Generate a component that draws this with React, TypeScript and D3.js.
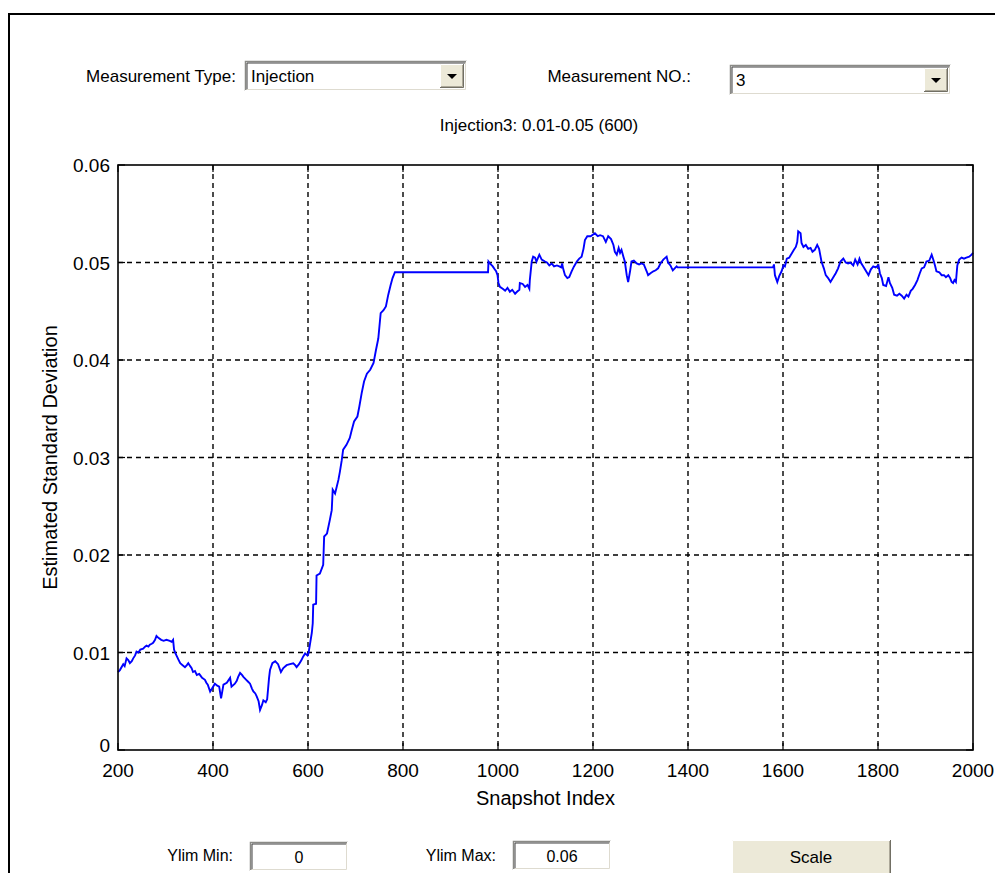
import React from 'react';
import * as d3 from 'd3';

const snapshotIndex = [
  200, 204, 211, 214, 218, 222, 225, 229, 232, 236, 239, 243, 247, 253, 257, 260, 264, 267, 271, 274, 278, 281, 285, 291, 296, 302, 309, 313, 316, 318,
  321, 324, 328, 331, 336, 341, 345, 348, 352, 355, 358, 362, 366, 371, 374, 377, 383, 386, 389, 394, 398, 404, 409, 413, 417, 422, 429, 436, 439, 446,
  450, 453, 457, 461, 464, 470, 474, 478, 482, 485, 489, 492, 496, 499, 503, 506, 511, 514, 516, 518, 520, 525, 531, 537, 543, 548, 555, 562, 569, 573,
  576, 581, 586, 590, 594, 599, 601,
  604, 608, 610, 611, 617, 618, 625, 632, 634, 640, 646, 650, 652, 657, 664, 667, 671, 674, 681, 688, 692, 697, 704, 708, 713, 718, 724, 731, 738, 743,
  748, 753, 759, 764, 769, 774, 778, 783, 979,
  980, 983, 989, 993, 996, 999, 1001, 1004, 1010, 1015, 1020, 1025, 1030, 1036, 1040, 1045, 1046, 1052, 1057, 1062, 1066, 1067, 1071, 1074, 1078, 1081,
  1087, 1092, 1099, 1103, 1108, 1113, 1118, 1124, 1129, 1133, 1135, 1137, 1141, 1146, 1150, 1155, 1160, 1166, 1171, 1176, 1180, 1183, 1188, 1195, 1204,
  1210, 1215, 1221, 1227, 1232, 1238, 1243, 1246, 1250, 1254, 1257, 1260, 1264, 1267, 1271, 1274, 1278, 1281, 1286, 1292, 1297, 1302, 1307, 1313, 1316,
  1321, 1327, 1332, 1337, 1342, 1348, 1355, 1358, 1363, 1368, 1372, 1376, 1378, 1579,
  1581, 1583, 1588, 1592, 1597, 1601, 1604, 1608, 1613, 1618, 1623, 1627, 1630, 1632, 1637, 1639, 1643, 1648, 1653, 1658, 1662, 1667, 1672, 1676, 1681,
  1686, 1690, 1695, 1700, 1705, 1711, 1716, 1721, 1727, 1732, 1737, 1742, 1748, 1752, 1757, 1761, 1765, 1769, 1775, 1780, 1785, 1790, 1795, 1801, 1804,
  1808, 1811, 1817, 1822, 1825, 1830, 1834, 1840, 1845, 1850, 1855, 1860, 1864, 1869, 1873, 1878, 1883, 1888, 1892, 1897, 1902, 1908, 1913, 1917, 1920,
  1923, 1929, 1934, 1939, 1943, 1948, 1952, 1955, 1958, 1961, 1964, 1967, 1971, 1976, 1981, 1986, 1992, 1997, 2000,
];

const stdValues = [
  0.0080, 0.0082, 0.0088, 0.0086, 0.0094, 0.0092, 0.0089, 0.0091, 0.0094, 0.0097, 0.0101, 0.0100, 0.0103, 0.0104, 0.0106, 0.0107, 0.0106, 0.0108, 0.0109, 0.0110,
  0.0113, 0.0117, 0.0115, 0.0113, 0.0112, 0.0113, 0.0112, 0.0111, 0.0113, 0.0103,
  0.0099, 0.0096, 0.0092, 0.0089, 0.0087, 0.0085, 0.0087, 0.0089, 0.0086, 0.0084, 0.0080, 0.0081, 0.0077, 0.0078, 0.0076, 0.0074, 0.0072, 0.0069, 0.0067, 0.0060,
  0.0063, 0.0068, 0.0066, 0.0065, 0.0053, 0.0067, 0.0069, 0.0074, 0.0065, 0.0068,
  0.0071, 0.0075, 0.0079, 0.0077, 0.0075, 0.0072, 0.0070, 0.0068, 0.0063, 0.0060, 0.0058, 0.0055, 0.0050, 0.0041, 0.0046, 0.0051, 0.0049, 0.0052, 0.0063, 0.0074,
  0.0082, 0.0089, 0.0091, 0.0088, 0.0080, 0.0084, 0.0087, 0.0088, 0.0089, 0.0087,
  0.0085, 0.0088, 0.0092, 0.0096, 0.0099, 0.0097, 0.0099,
  0.0108, 0.0120, 0.0130, 0.0149, 0.0150, 0.0179, 0.0181, 0.0190, 0.0219, 0.0222, 0.0236, 0.0246, 0.0267, 0.0263, 0.0277, 0.0285, 0.0297, 0.0308, 0.0313, 0.0320,
  0.0328, 0.0337, 0.0342, 0.0352, 0.0366, 0.0378, 0.0386, 0.0390, 0.0397, 0.0410,
  0.0422, 0.0448, 0.0451, 0.0455, 0.0467, 0.0477, 0.0484, 0.0490, 0.0490,
  0.0501, 0.0499, 0.0496, 0.0493, 0.0491, 0.0487, 0.0479, 0.0475, 0.0473, 0.0471, 0.0474, 0.0470, 0.0472, 0.0468, 0.0470, 0.0472, 0.0479, 0.0478, 0.0475, 0.0477,
  0.0473, 0.0482, 0.0501, 0.0506, 0.0505, 0.0501,
  0.0508, 0.0503, 0.0501, 0.0500, 0.0497, 0.0499, 0.0496, 0.0497, 0.0496, 0.0495, 0.0499, 0.0494, 0.0487, 0.0484, 0.0485, 0.0491, 0.0496, 0.0501, 0.0504, 0.0506,
  0.0514, 0.0523, 0.0527, 0.0527, 0.0530,
  0.0527, 0.0528, 0.0527, 0.0521, 0.0527, 0.0524, 0.0518, 0.0511, 0.0508, 0.0515, 0.0510, 0.0513, 0.0506, 0.0501, 0.0487, 0.0480, 0.0491, 0.0501, 0.0502, 0.0499,
  0.0498, 0.0499, 0.0498, 0.0491, 0.0487,
  0.0489, 0.0491, 0.0492, 0.0494, 0.0499, 0.0503, 0.0506, 0.0500, 0.0497, 0.0492, 0.0494, 0.0496, 0.0495, 0.0495,
  0.0498, 0.0487, 0.0480, 0.0486, 0.0491, 0.0497, 0.0496, 0.0504, 0.0505, 0.0509, 0.0513, 0.0516, 0.0521, 0.0532, 0.0530, 0.0520, 0.0516, 0.0518, 0.0514, 0.0515,
  0.0511, 0.0513, 0.0518, 0.0514, 0.0501,
  0.0494, 0.0487, 0.0484, 0.0480, 0.0484, 0.0489, 0.0494, 0.0501, 0.0504, 0.0500, 0.0499, 0.0500, 0.0497, 0.0503, 0.0498, 0.0504, 0.0499, 0.0496, 0.0491, 0.0487,
  0.0493, 0.0496, 0.0495, 0.0497, 0.0489,
  0.0484, 0.0477, 0.0476, 0.0485, 0.0479, 0.0474, 0.0467, 0.0466, 0.0468, 0.0466, 0.0463, 0.0467, 0.0465, 0.0471, 0.0473, 0.0477, 0.0482, 0.0489, 0.0494, 0.0495,
  0.0501, 0.0502, 0.0508, 0.0502, 0.0497,
  0.0491, 0.0490, 0.0487, 0.0487, 0.0485, 0.0487, 0.0484, 0.0480, 0.0479, 0.0482, 0.0480, 0.0497, 0.0503, 0.0505, 0.0504, 0.0505, 0.0506, 0.0508, 0.0510,
];

const xTicks = [200, 400, 600, 800, 1000, 1200, 1400, 1600, 1800, 2000];
const yTicks = [0, 0.01, 0.02, 0.03, 0.04, 0.05, 0.06];
const yTickLabels = ['0', '0.01', '0.02', '0.03', '0.04', '0.05', '0.06'];

const plotTitle = 'Injection3: 0.01-0.05 (600)';
const xLabel = 'Snapshot Index';
const yLabel = 'Estimated Standard Deviation';
const typeLabel = 'Measurement Type:';
const typeValue = 'Injection';
const noLabel = 'Measurement NO.:';
const noValue = '3';
const yminLabel = 'Ylim Min:';
const yminValue = '0';
const ymaxLabel = 'Ylim Max:';
const ymaxValue = '0.06';
const buttonLabel = 'Scale';

const FONT = '"Liberation Sans", Arial, sans-serif';
const BTN = '#ece9d8';

function Sunken({ x, y, w, h }: { x: number; y: number; w: number; h: number }) {
  return (
    <g>
      <rect x={x} y={y} width={w} height={h} fill="#ffffff" />
      <path d={`M${x + 0.5},${y + h} V${y + 0.5} H${x + w}`} stroke="#8a8a86" strokeWidth={1.5} fill="none" />
      <path d={`M${x + 2},${y + h - 1} V${y + 2} H${x + w - 1}`} stroke="#404040" strokeWidth={1} fill="none" />
      <path d={`M${x},${y + h - 0.5} H${x + w - 0.5} V${y}`} stroke="#ffffff" strokeWidth={1} fill="none" />
      <path d={`M${x + 1.5},${y + h - 1.5} H${x + w - 1.5} V${y + 1.5}`} stroke="#dedbd0" strokeWidth={1} fill="none" />
    </g>
  );
}

function Raised({ x, y, w, h }: { x: number; y: number; w: number; h: number }) {
  return (
    <g>
      <rect x={x} y={y} width={w} height={h} fill={BTN} />
      <path d={`M${x + 0.5},${y + h} V${y + 0.5} H${x + w}`} stroke="#ffffff" strokeWidth={1} fill="none" />
      <path d={`M${x},${y + h - 0.5} H${x + w - 0.5} V${y}`} stroke="#716f64" strokeWidth={1} fill="none" />
      <path d={`M${x + 1},${y + h - 1.5} H${x + w - 1.5} V${y + 1}`} stroke="#aca899" strokeWidth={1} fill="none" />
    </g>
  );
}

function Dropdown({ x, y, w, h, value }: { x: number; y: number; w: number; h: number; value: string }) {
  const bw = 24;
  const bx = x + w - bw - 3;
  const by = y + 3;
  const bh = h - 6;
  const cx = bx + bw / 2;
  const cy = by + bh / 2;
  return (
    <g>
      <Sunken x={x} y={y} w={w} h={h} />
      <Raised x={bx} y={by} w={bw} h={bh} />
      <path d={`M${cx - 5},${cy - 2} L${cx + 5},${cy - 2} L${cx},${cy + 3} Z`} fill="#000" />
      <text x={x + 6} y={y + h / 2 + 6} fontSize={17} fontFamily={FONT} fill="#000">{value}</text>
    </g>
  );
}

export default function App() {
  const W = 995;
  const H = 873;
  const m = { left: 118, right: 973, top: 165, bottom: 750 };
  const x = d3.scaleLinear().domain([200, 2000]).range([m.left, m.right]);
  const y = d3.scaleLinear().domain([0, 0.06]).range([m.bottom, m.top]);
  const pts: [number, number][] = snapshotIndex.map((s, i) => [s, stdValues[i]]);
  const line = d3
    .line<[number, number]>()
    .x((d) => x(d[0]))
    .y((d) => y(d[1]))
    .curve(d3.curveLinear);
  const tickLen = 7;

  return (
    <svg
      width={W}
      height={H}
      style={{ position: 'absolute', left: 0, top: 0, background: '#fff' }}
      xmlns="http://www.w3.org/2000/svg"
    >
      <rect x={0} y={0} width={W} height={H} fill="#ffffff" />
      {/* outer frame */}
      <path d={`M9,${H + 5} V14 H${W + 5}`} stroke="#000" strokeWidth={2} fill="none" />

      {/* top controls */}
      <text x={236} y={82} fontSize={17} fontFamily={FONT} textAnchor="end" fill="#000">{typeLabel}</text>
      <Dropdown x={245} y={61} w={222} h={30} value={typeValue} />
      <text x={691} y={82} fontSize={17} fontFamily={FONT} textAnchor="end" fill="#000">{noLabel}</text>
      <Dropdown x={730} y={65} w={221} h={30} value={noValue} />
      <text x={539} y={131} fontSize={17} fontFamily={FONT} textAnchor="middle" fill="#000">{plotTitle}</text>

      {/* grid */}
      <g stroke="#000" strokeWidth={1.4} strokeDasharray="5,4">
        {xTicks.slice(1, -1).map((t) => (
          <line key={`gx${t}`} x1={x(t)} x2={x(t)} y1={m.top} y2={m.bottom} />
        ))}
        {yTicks.slice(1, -1).map((t) => (
          <line key={`gy${t}`} x1={m.left} x2={m.right} y1={y(t)} y2={y(t)} />
        ))}
      </g>

      {/* ticks */}
      <g stroke="#000" strokeWidth={1.2}>
        {xTicks.map((t) => (
          <g key={`tx${t}`}>
            <line x1={x(t)} x2={x(t)} y1={m.bottom} y2={m.bottom - tickLen} />
            <line x1={x(t)} x2={x(t)} y1={m.top} y2={m.top + tickLen} />
          </g>
        ))}
        {yTicks.map((t) => (
          <g key={`ty${t}`}>
            <line x1={m.left} x2={m.left + tickLen} y1={y(t)} y2={y(t)} />
            <line x1={m.right} x2={m.right - tickLen} y1={y(t)} y2={y(t)} />
          </g>
        ))}
      </g>

      {/* data */}
      <path d={line(pts) || ''} fill="none" stroke="#0000ff" strokeWidth={1.9} strokeLinejoin="miter" />

      {/* axes box */}
      <rect x={m.left} y={m.top} width={m.right - m.left} height={m.bottom - m.top} fill="none" stroke="#000" strokeWidth={1.6} />

      {/* tick labels */}
      {xTicks.map((t) => (
        <text key={`lx${t}`} x={x(t)} y={m.bottom + 27} fontSize={19} fontFamily={FONT} textAnchor="middle" fill="#000">
          {t}
        </text>
      ))}
      {yTicks.map((t, i) => (
        <text
          key={`ly${t}`}
          x={m.left - 8}
          y={i === 0 ? y(t) + 2 : y(t) + 7}
          fontSize={19}
          fontFamily={FONT}
          textAnchor="end"
          fill="#000"
        >
          {yTickLabels[i]}
        </text>
      ))}

      {/* axis labels */}
      <text x={(m.left + m.right) / 2} y={805} fontSize={20} fontFamily={FONT} textAnchor="middle" fill="#000">{xLabel}</text>
      <text
        transform={`translate(57,${(m.top + m.bottom) / 2}) rotate(-90)`}
        fontSize={20}
        fontFamily={FONT}
        textAnchor="middle"
        fill="#000"
      >
        {yLabel}
      </text>

      {/* bottom controls */}
      <text x={233} y={861} fontSize={16} fontFamily={FONT} textAnchor="end" fill="#000">{yminLabel}</text>
      <Sunken x={250} y={842} w={98} h={29} />
      <text x={299} y={863} fontSize={16} fontFamily={FONT} textAnchor="middle" fill="#000">{yminValue}</text>
      <text x={496} y={861} fontSize={16} fontFamily={FONT} textAnchor="end" fill="#000">{ymaxLabel}</text>
      <Sunken x={513} y={841} w={98} h={29} />
      <text x={562} y={862} fontSize={16} fontFamily={FONT} textAnchor="middle" fill="#000">{ymaxValue}</text>
      <Raised x={732} y={840} w={159} h={36} />
      <text x={811} y={863} fontSize={17} fontFamily={FONT} textAnchor="middle" fill="#000">{buttonLabel}</text>
    </svg>
  );
}
